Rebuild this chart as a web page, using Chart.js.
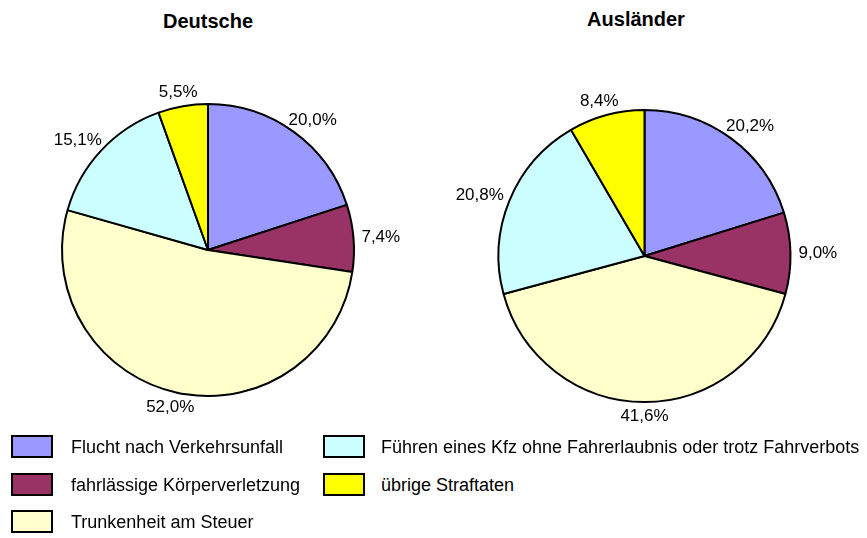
<!DOCTYPE html>
<html lang="de">
<head>
<meta charset="utf-8">
<title>Deutsche / Ausländer</title>
<script src="https://cdn.jsdelivr.net/npm/chart.js@4/dist/chart.umd.min.js"></script>
<style>
    body { margin: 0; background: #fff; font-family: "Liberation Sans", Arial, sans-serif; }
    #wrap { position: relative; width: 867px; height: 538px; overflow: hidden; }
    .pie { position: absolute; top: 0; }
    .title { position: absolute; font-weight: bold; font-size: 20px; color: #000; transform: translateX(-50%); white-space: nowrap; }
    .swatch { position: absolute; width: 38px; height: 19px; border: 2px solid #000; }
    .ltext { position: absolute; font-size: 18px; color: #000; white-space: nowrap; line-height: 23px; }
</style>
</head>
<body>
<div id="wrap">
    <div class="title" style="left:208px; top:10px;">Deutsche</div>
    <div class="title" style="left:636px; top:8px;">Ausländer</div>
    <div class="pie" style="left:0; width:434px; height:440px;"><canvas id="pieDeutsche"></canvas></div>
    <div class="pie" style="left:434px; width:433px; height:440px;"><canvas id="pieAuslaender"></canvas></div>
    <div id="legend"></div>
</div>
<script>
// Daten
const kategorien = [
    'Flucht nach Verkehrsunfall',
    'fahrlässige Körperverletzung',
    'Trunkenheit am Steuer',
    'Führen eines Kfz ohne Fahrerlaubnis oder trotz Fahrverbots',
    'übrige Straftaten'
];
const deutsche = [20.0, 7.4, 52.0, 15.1, 5.5];
const auslaender = [20.2, 9.0, 41.6, 20.8, 8.4];
const farben = ['#9999FF', '#993366', '#FFFFCC', '#CCFFFF', '#FFFF00'];

// Beschriftungen ausserhalb der Segmente
const prozentLabels = {
    id: 'prozentLabels',
    afterDatasetsDraw(chart) {
        const ctx = chart.ctx;
        const meta = chart.getDatasetMeta(0);
        const werte = chart.data.datasets[0].data;
        ctx.save();
        ctx.font = '17px "Liberation Sans", Arial, sans-serif';
        ctx.fillStyle = '#000';
        ctx.textAlign = 'center';
        ctx.textBaseline = 'middle';
        meta.data.forEach((arc, i) => {
            const p = arc.getProps(['x', 'y', 'startAngle', 'endAngle', 'outerRadius'], true);
            const mid = (p.startAngle + p.endAngle) / 2;
            const dx = Math.cos(mid), dy = Math.sin(mid);
            const text = werte[i].toFixed(1).replace('.', ',') + '%';
            const w = ctx.measureText(text).width;
            const h = 13;
            const r = p.outerRadius + 8;
            const x = p.x + dx * r + dx * w / 2;
            const y = p.y + dy * r + dy * h / 2;
            ctx.fillText(text, x, y);
        });
        ctx.restore();
    }
};

function tortenDiagramm(id, werte, padding) {
    const ctx = document.getElementById(id).getContext('2d');
    return new Chart(ctx, {
        type: 'pie',
        data: {
            labels: kategorien,
            datasets: [{
                data: werte,
                backgroundColor: farben,
                borderColor: '#000',
                borderWidth: 2,
                radius: 146
            }]
        },
        options: {
            maintainAspectRatio: false,
            responsive: true,
            animation: false,
            layout: { padding: padding },
            plugins: {
                legend: { display: false },
                tooltip: { enabled: false }
            }
        },
        plugins: [prozentLabels]
    });
}

tortenDiagramm('pieDeutsche', deutsche, { left: 40, right: 58, top: 90, bottom: 30 });
tortenDiagramm('pieAuslaender', auslaender, { left: 40, right: 52, top: 96, bottom: 24 });

// Legende
const legende = document.getElementById('legend');
const zeilenTop = [435, 473, 510];
kategorien.forEach((name, i) => {
    const spalte = i < 3 ? 0 : 1;
    const zeile = i < 3 ? i : i - 3;
    const box = document.createElement('div');
    box.className = 'swatch';
    box.style.left = (spalte ? 323 : 11) + 'px';
    box.style.top = zeilenTop[zeile] + 'px';
    box.style.background = farben[i];
    legende.appendChild(box);
    const t = document.createElement('div');
    t.className = 'ltext';
    t.style.left = (spalte ? 381 : 71) + 'px';
    t.style.top = (zeilenTop[zeile] + 1) + 'px';
    t.textContent = name;
    legende.appendChild(t);
});
</script>
</body>
</html>
